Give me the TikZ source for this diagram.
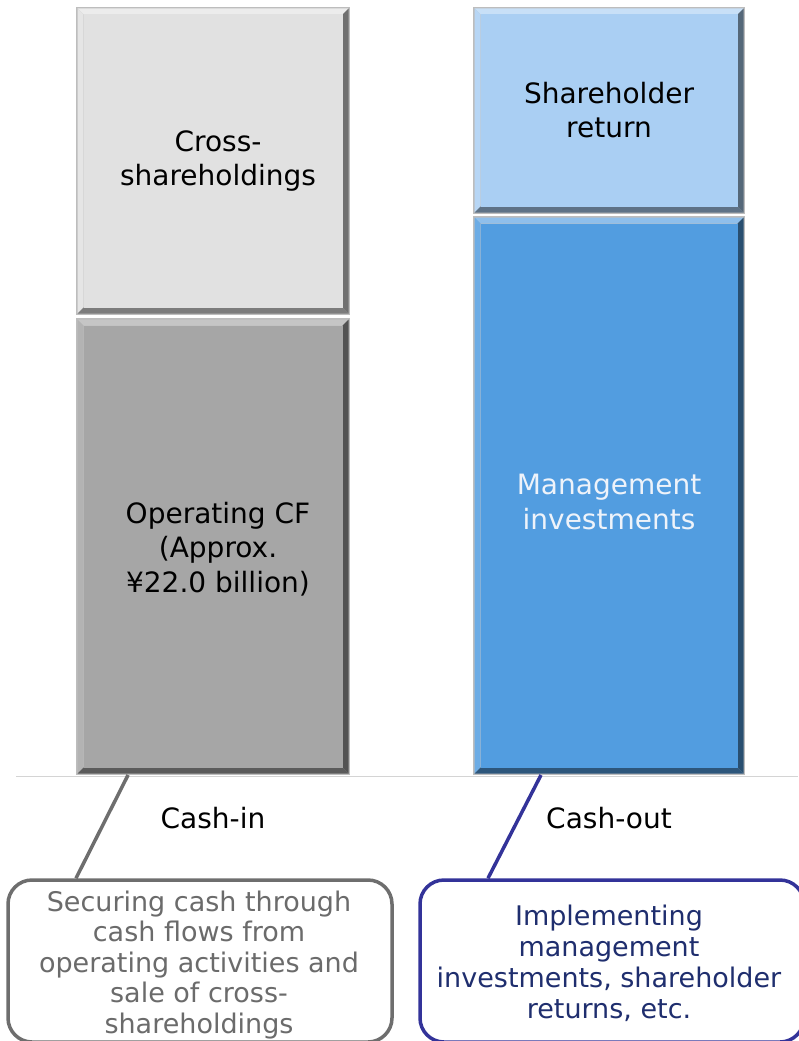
\documentclass[tikz,border=0pt]{standalone}
\usepackage{fontspec}
\setmainfont{DejaVu Sans}
\usetikzlibrary{calc}

\definecolor{framegray}{HTML}{BDBDBD}
\definecolor{crossface}{HTML}{E1E1E1}
\definecolor{opface}{HTML}{A6A6A6}
\definecolor{returnface}{HTML}{AACFF3}
\definecolor{investface}{HTML}{529DE0}
\definecolor{investtext}{HTML}{EEF3FA}
\definecolor{axisgray}{HTML}{D4D4D4}
\definecolor{ingray}{HTML}{6B6B6B}
\definecolor{inborder}{HTML}{6E6E6E}
\definecolor{outborder}{HTML}{333399}
\definecolor{outtext}{HTML}{1F2E6E}

\tikzset{
  barnode/.style={draw=none, fill=framegray, inner sep=0pt, outer sep=0pt},
  barlabel/.style={align=center, font=\fontsize{28}{34.5}\selectfont, inner sep=0pt},
  flowlabel/.style={font=\fontsize{28}{34}\selectfont, inner sep=0pt},
  callout/.style={rounded corners=24pt, line width=3.5pt, fill=white,
    minimum width=384pt, minimum height=162pt, inner sep=0pt, align=center,
    font=\fontsize{27}{31}\selectfont},
  leader/.style={line width=3.5pt},
}

% #1 node name, #2 x1, #3 y1, #4 x2, #5 y2, #6 face colour
\newcommand\bevelbar[6]{%
  \pgfmathsetmacro\bbw{#4-#2}%
  \pgfmathsetmacro\bbh{#5-#3}%
  \node[barnode, minimum width=\bbw pt, minimum height=\bbh pt]
    (#1) at ({(#2+#4)/2},{(#3+#5)/2}) {};
  % bevelled edges: light on top and left, dark on bottom and right
  \fill[#6!65!white] ({#2+1.5},{#3+1.5}) -- ({#4-1.5},{#3+1.5}) -- ({#4-7.5},{#3+7.5}) -- ({#2+7.5},{#3+7.5}) -- cycle;
  \fill[#6!85!white] ({#2+1.5},{#3+1.5}) -- ({#2+7.5},{#3+7.5}) -- ({#2+7.5},{#5-7.5}) -- ({#2+1.5},{#5-1.5}) -- cycle;
  \fill[#6!55!black] ({#2+1.5},{#5-1.5}) -- ({#4-1.5},{#5-1.5}) -- ({#4-7.5},{#5-7.5}) -- ({#2+7.5},{#5-7.5}) -- cycle;
  \fill[#6!50!black] ({#4-1.5},{#3+1.5}) -- ({#4-1.5},{#5-1.5}) -- ({#4-7.5},{#5-7.5}) -- ({#4-7.5},{#3+7.5}) -- cycle;
  \fill[#6] ({#2+7.5},{#3+7.5}) rectangle ({#4-7.5},{#5-7.5});
}

\begin{document}
\begin{tikzpicture}[x=1pt, y=-1pt]
  \useasboundingbox (0,0) rectangle (798,1041);

  % baseline under the bars
  \draw[axisgray, line width=1.5pt] (16,776.5) -- (798,776.5);

  % cash-in column
  \bevelbar{cross}{76}{7}{350}{315}{crossface}
  \bevelbar{opcf}{76}{318}{350}{775}{opface}
  % cash-out column
  \bevelbar{sret}{473}{7}{745}{214}{returnface}
  \bevelbar{minv}{473}{216}{745}{775}{investface}

  \node[barlabel] (crosst) at (218,161) {Cross-\\shareholdings};
  \node[barlabel] (opcft) at (218,549) {Operating CF\\(Approx.\\¥22.0 billion)};
  \node[barlabel] (srett) at (609,110) {Shareholder\\return};
  \node[barlabel, text=investtext] (minvt) at (609,502) {Management\\investments};

  \node[flowlabel] (cashin) at (213,818) {Cash-in};
  \node[flowlabel] (cashout) at (609,818) {Cash-out};

  % explanatory callouts
  \node[callout, draw=inborder, text=ingray] (callin) at (200,961) {};
  \node[align=center, inner sep=0pt, text=ingray, font=\fontsize{27}{30.5}\selectfont]
    (callint) at (199,965)
    {Securing cash through\\cash flows from\\operating activities and\\sale of cross-\\shareholdings};
  \node[callout, draw=outborder, text=outtext] (callout) at (612,961) {};
  \node[align=center, inner sep=0pt, text=outtext, font=\fontsize{27}{31}\selectfont]
    (calloutt) at (609,963)
    {Implementing\\management\\investments, shareholder\\returns, etc.};

  \draw[leader, inborder] ($(opcf.south west)!0.19!(opcf.south east)$) -- ($(callin.north west)!0.18!(callin.north east)$);
  \draw[leader, outborder] ($(minv.south west)!0.25!(minv.south east)$) -- ($(callout.north west)!0.18!(callout.north east)$);
\end{tikzpicture}
\end{document}
